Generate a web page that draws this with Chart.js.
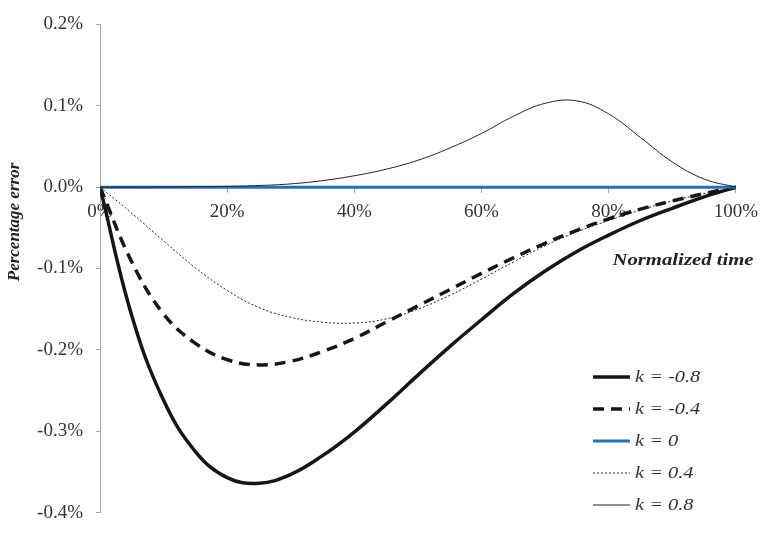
<!DOCTYPE html>
<html>
<head>
<meta charset="utf-8">
<script src="https://cdn.jsdelivr.net/npm/chart.js@4"></script>
<style>
    body { margin: 0; background: #fff; }
    #wrap { width: 766px; height: 537px; position: relative; }
</style>
</head>
<body>
<div id="wrap"><canvas id="errChart"></canvas></div>
<script>
// Normalized time (%) and percentage error (%) for each k
const timePct = [0, 5, 10, 15, 20, 25, 30, 35, 40, 45, 50, 55, 60, 65, 70, 75, 80, 85, 90, 95, 100];
const kNeg08 = [0, -0.158, -0.262, -0.325, -0.357, -0.364, -0.353, -0.330, -0.301, -0.267, -0.231, -0.196, -0.163, -0.131, -0.103, -0.079, -0.059, -0.041, -0.026, -0.012, 0];
const kNeg04 = [0, -0.092, -0.156, -0.192, -0.212, -0.2185, -0.214, -0.202, -0.186, -0.166, -0.146, -0.126, -0.106, -0.087, -0.069, -0.053, -0.039, -0.027, -0.017, -0.008, 0];
const kZero  = [0, 0, 0, 0, 0, 0, 0, 0, 0, 0, 0, 0, 0, 0, 0, 0, 0, 0, 0, 0, 0];
const kPos04 = [0, -0.032, -0.066, -0.099, -0.127, -0.148, -0.160, -0.166, -0.167, -0.162, -0.150, -0.133, -0.113, -0.092, -0.072, -0.055, -0.041, -0.028, -0.017, -0.008, 0];
const kPos08 = [0, 0, 0.0002, 0.0005, 0.001, 0.002, 0.004, 0.008, 0.014, 0.022, 0.033, 0.048, 0.066, 0.087, 0.103, 0.106, 0.090, 0.061, 0.031, 0.010, 0];
const seriesLabels = ['k = -0.8', 'k = -0.4', 'k = 0', 'k = 0.4', 'k = 0.8'];
const yTicks = [-0.4, -0.3, -0.2, -0.1, 0, 0.1, 0.2];

const serif = '"Times New Roman", "Liberation Serif", Tinos, Times, serif';

function toPoints(values) {
    return timePct.map((t, i) => ({ x: t, y: values[i] }));
}

// axis titles and legend sit at fixed spots inside the plot
const labelsPlugin = {
    id: 'labelsPlugin',
    afterDraw(chart) {
        const ctx = chart.ctx;
        ctx.save();
        ctx.fillStyle = '#222';
        ctx.font = 'italic bold 17px ' + serif;
        ctx.textAlign = 'center';
        ctx.textBaseline = 'middle';
        ctx.translate(15, 222);
        ctx.rotate(-Math.PI / 2);
        ctx.fillText('Percentage error', 0, 0);
        ctx.restore();

        ctx.save();
        ctx.fillStyle = '#222';
        ctx.font = 'italic bold 17px ' + serif;
        ctx.textAlign = 'center';
        ctx.textBaseline = 'middle';
        ctx.translate(683, 261);
        ctx.scale(1.22, 1);
        ctx.fillText('Normalized time', 0, 0);
        ctx.restore();

        chart.data.datasets.forEach((ds, i) => {
            const y = 377 + i * 32;
            ctx.save();
            ctx.strokeStyle = ds.borderColor;
            ctx.lineWidth = ds.borderWidth;
            ctx.setLineDash(ds.borderDash || []);
            ctx.beginPath();
            ctx.moveTo(593, y);
            ctx.lineTo(630, y);
            ctx.stroke();
            ctx.restore();

            ctx.save();
            ctx.fillStyle = '#333';
            ctx.font = 'italic 17px ' + serif;
            ctx.textAlign = 'left';
            ctx.textBaseline = 'middle';
            ctx.translate(635, y + 1);
            ctx.scale(1.2, 1);
            ctx.fillText(ds.label, 0, 0);
            ctx.restore();
        });
    }
};

const ctx = document.getElementById('errChart').getContext('2d');
new Chart(ctx, {
    type: 'line',
    data: {
        datasets: [
            { label: seriesLabels[0], data: toPoints(kNeg08), borderColor: '#161616', borderWidth: 3.5, order: 4 },
            { label: seriesLabels[1], data: toPoints(kNeg04), borderColor: '#161616', borderWidth: 3.5, borderDash: [11, 7], order: 3 },
            { label: seriesLabels[2], data: toPoints(kZero), borderColor: '#2371BA', borderWidth: 3, order: 2 },
            { label: seriesLabels[3], data: toPoints(kPos04), borderColor: '#222', borderWidth: 1, borderDash: [2, 2], order: 1 },
            { label: seriesLabels[4], data: toPoints(kPos08), borderColor: '#222', borderWidth: 1, order: 0 }
        ]
    },
    options: {
        responsive: true,
        maintainAspectRatio: false,
        animation: false,
        events: [],
        layout: { padding: { left: 0, right: 26, top: 16, bottom: 11 } },
        elements: {
            point: { radius: 0 },
            line: { tension: 0.4, fill: false }
        },
        plugins: {
            legend: { display: false },
            tooltip: { enabled: false }
        },
        scales: {
            x: {
                type: 'linear',
                position: { y: 0 },
                min: 0,
                max: 100,
                ticks: {
                    stepSize: 20,
                    padding: 8,
                    color: '#333',
                    font: { family: serif, size: 19 },
                    callback: v => v + '%'
                },
                grid: { drawOnChartArea: false, tickLength: 5, color: '#a6a6a6' },
                border: { color: '#a6a6a6' }
            },
            y: {
                min: -0.4,
                max: 0.2,
                afterFit: scale => { scale.width = 100; },
                afterBuildTicks: scale => { scale.ticks = yTicks.map(v => ({ value: v })); },
                ticks: {
                    padding: 13,
                    color: '#333',
                    font: { family: serif, size: 19 },
                    callback: v => v.toFixed(1) + '%'
                },
                grid: { drawOnChartArea: false, tickLength: 4, color: '#a6a6a6' },
                border: { color: '#a6a6a6' }
            }
        }
    },
    plugins: [labelsPlugin]
});
</script>
</body>
</html>
